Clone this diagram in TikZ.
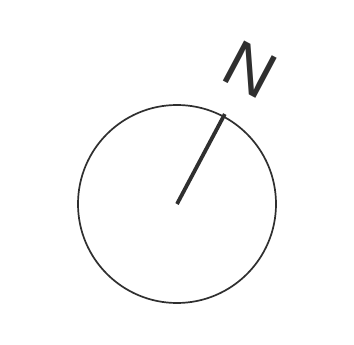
\documentclass[tikz,border=0pt]{standalone}
\usepackage{fontspec}
\setmainfont{Liberation Sans}
\usetikzlibrary{positioning, calc}
\definecolor{ink}{HTML}{2F2F2F}

\begin{document}
\begin{tikzpicture}[x=1pt, y=-1pt]
        \useasboundingbox[fill=white] (0,0) rectangle (354,345);
        \node[draw=ink, line width=1.7pt, circle, minimum size=198pt, inner sep=0pt] (rose) at (177,204) {};
        \coordinate (centre) at (rose.center);
        \coordinate (tip) at ($(rose.center)!1.02!(rose.62)$);
        \node[text=ink, font=\fontsize{66}{66}\selectfont, rotate=-28, inner sep=0pt] (north) at (250,70) {N};
        \draw[ink, line width=3.8pt] (centre) -- (tip);
      \end{tikzpicture}
\end{document}
